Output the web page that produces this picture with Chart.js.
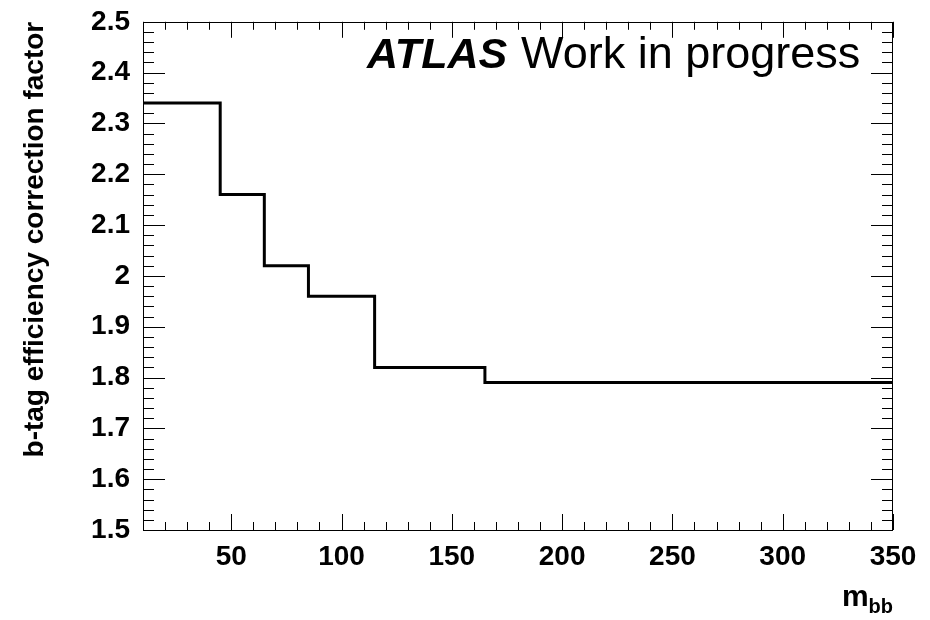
<!DOCTYPE html>
<html><head><meta charset="utf-8">
<script src="https://cdn.jsdelivr.net/npm/chart.js@4.4.1/dist/chart.umd.min.js"></script>
<style>html,body{margin:0;padding:0;background:#fff;}#wrap{width:930px;height:620px;}</style>
</head><body><div id="wrap"><canvas id="c" width="930" height="620"></canvas></div>
<script>
// ---- data ----
const binEdges = [10, 45, 65, 85, 115, 165, 350];
const correctionFactors = [2.34, 2.16, 2.02, 1.96, 1.82, 1.79];
const xTickLabels = [50, 100, 150, 200, 250, 300, 350];
const yTickLabels = [1.5, 1.6, 1.7, 1.8, 1.9, 2.0, 2.1, 2.2, 2.3, 2.4, 2.5];
const yAxisTitle = 'b-tag efficiency correction factor';
const xAxisTitleMain = 'm';
const xAxisTitleSub = 'bb';
const labelTextBold = 'ATLAS';
const labelTextRegular = 'Work in progress';

const FONT = '"Liberation Sans", Arial, Helvetica, sans-serif';

const stepPoints = binEdges.map((e, i) => ({
  x: e,
  y: correctionFactors[Math.min(i, correctionFactors.length - 1)]
}));

const frameAndTicks = {
  id: 'frameAndTicks',
  afterDraw(chart) {
    const ctx = chart.ctx;
    const xs = chart.scales.x, ys = chart.scales.y;
    const a = chart.chartArea;
    ctx.save();
    ctx.strokeStyle = '#000';
    ctx.lineWidth = 1;
    ctx.strokeRect(Math.round(a.left) + 0.5, Math.round(a.top) + 0.5,
                   Math.round(a.right - a.left) - 1, Math.round(a.bottom - a.top));
    ctx.beginPath();
    for (let v = xs.min; v <= xs.max + 1e-9; v += 10) {
      const px = Math.round(xs.getPixelForValue(v)) + 0.5;
      const major = Math.abs(v % 50) < 1e-9;
      const len = major ? 16 : 8;
      ctx.moveTo(px, a.bottom); ctx.lineTo(px, a.bottom - len);
      ctx.moveTo(px, a.top); ctx.lineTo(px, a.top + len);
    }
    for (let k = 0; k <= 50; k++) {
      const v = ys.min + k * 0.02;
      const py = Math.round(ys.getPixelForValue(v)) + 0.5;
      const major = k % 5 === 0;
      const len = major ? 22 : 11;
      ctx.moveTo(a.left, py); ctx.lineTo(a.left + len, py);
      ctx.moveTo(a.right, py); ctx.lineTo(a.right - len, py);
    }
    ctx.stroke();

    ctx.fillStyle = '#000';
    ctx.textBaseline = 'alphabetic';
    ctx.textAlign = 'left';
    ctx.font = 'italic bold 43px ' + FONT;
    ctx.fillText(labelTextBold, 367, 68);
    ctx.font = '45px ' + FONT;
    ctx.fillText(labelTextRegular, 521, 68);

    ctx.textAlign = 'right';
    ctx.font = 'bold 20px ' + FONT;
    const subW = ctx.measureText(xAxisTitleSub).width;
    ctx.fillText(xAxisTitleSub, a.right, 613);
    ctx.font = 'bold 30px ' + FONT;
    ctx.fillText(xAxisTitleMain, a.right - subW, 606);
    ctx.restore();
  }
};

new Chart(document.getElementById('c'), {
  type: 'line',
  data: {
    datasets: [{
      data: stepPoints,
      stepped: 'before',
      borderColor: '#000',
      borderWidth: 3,
      borderJoinStyle: 'miter',
      pointRadius: 0,
      fill: false,
      tension: 0
    }]
  },
  options: {
    responsive: false,
    animation: false,
    devicePixelRatio: 1,
    layout: { padding: { top: 18, right: 37, left: 0, bottom: 0 } },
    plugins: { legend: { display: false }, tooltip: { enabled: false } },
    scales: {
      x: {
        type: 'linear',
        position: 'bottom',
        min: 10, max: 350,
        grid: { display: false },
        border: { display: false },
        afterBuildTicks: s => { s.ticks = xTickLabels.map(v => ({ value: v })); },
        afterFit: s => { s.height = 90; },
        ticks: {
          autoSkip: false, maxRotation: 0, padding: 2, color: '#000',
          font: { family: FONT, size: 28, weight: 'bold' },
          callback: v => String(v)
        }
      },
      y: {
        type: 'linear',
        min: 1.5, max: 2.5,
        grid: { display: false },
        border: { display: false },
        afterBuildTicks: s => { s.ticks = yTickLabels.map(v => ({ value: v })); },
        afterFit: s => { s.width = 143; },
        ticks: {
          autoSkip: false, padding: 5, color: '#000',
          font: { family: FONT, size: 28, weight: 'bold' },
          callback: v => String(Math.round(v * 10) / 10)
        },
        title: {
          display: true, text: yAxisTitle, align: 'end', color: '#000',
          font: { family: FONT, size: 28, weight: 'bold' },
          padding: { top: 18, bottom: 0 }
        }
      }
    }
  },
  plugins: [frameAndTicks]
});
</script></body></html>
